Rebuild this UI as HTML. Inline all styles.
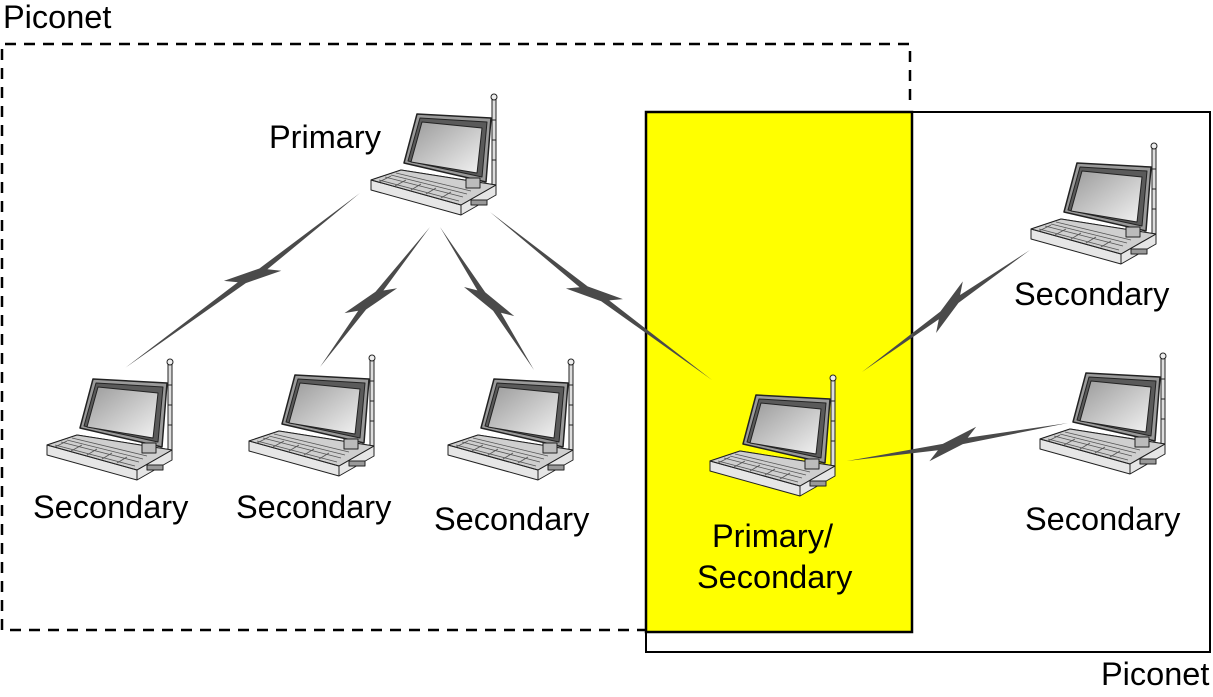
<!DOCTYPE html>
<html><head><meta charset="utf-8"><style>
html,body{margin:0;padding:0;background:#fff;}
svg{display:block;}
text{font-family:"Liberation Sans",sans-serif;font-size:32.5px;fill:#000;}
</style></head><body>
<svg width="1213" height="697" viewBox="0 0 1213 697" xmlns="http://www.w3.org/2000/svg">
<defs>
<linearGradient id="scr" x1="0" y1="0" x2="1" y2="1">
<stop offset="0" stop-color="#9a9a9a"/><stop offset="1" stop-color="#f2f2f2"/>
</linearGradient>
<g id="lap" stroke="#222" stroke-width="1" stroke-linejoin="round">
<rect x="121" y="9" width="4" height="86" fill="#ddd"/>
<line x1="121" y1="30" x2="125" y2="30"/><line x1="121" y1="50" x2="125" y2="50"/><line x1="121" y1="70" x2="125" y2="70"/>
<circle cx="123" cy="7" r="3" fill="#eee"/>
<polygon points="0,90 30,80 125,95 125,105 90,125 0,100" fill="#e6e6e6"/>
<polygon points="0,90 30,80 125,95 90,115" fill="#cfcfcf"/>
<polyline points="0,90 90,115 125,95" fill="none"/>
<line x1="90" y1="115" x2="90" y2="125"/>
<g stroke="#555" stroke-width="0.8">
<line x1="8" y1="90" x2="88" y2="111"/><line x1="14" y1="87" x2="92" y2="107"/><line x1="20" y1="85" x2="96" y2="104"/><line x1="25" y1="83" x2="100" y2="101"/>
<line x1="20" y1="86" x2="8" y2="92"/><line x1="35" y1="90" x2="24" y2="96"/><line x1="50" y1="94" x2="40" y2="100"/><line x1="65" y1="98" x2="55" y2="104"/><line x1="80" y1="102" x2="70" y2="108"/>
</g>
<polygon points="46,24 120,28 115,92 33,73" fill="#9a9a9a" stroke-width="1.5"/>
<polygon points="49,28 116,32 111,87 37,71" fill="#5a5a5a"/>
<polygon points="51,32 111,38 106,83 40,72" fill="url(#scr)"/>
<rect x="95" y="88" width="14" height="10" fill="#bbb"/>
<rect x="100" y="110" width="16" height="5" fill="#999"/>
</g>
</defs>

<!-- piconet boxes -->
<rect x="646" y="112" width="564" height="540" fill="none" stroke="#000" stroke-width="2"/>
<rect x="646" y="112" width="266" height="520" fill="#ffff00" stroke="#000" stroke-width="2.5"/>
<polyline points="910,100 910,44 2,44 2,630 646,630" fill="none" stroke="#000" stroke-width="2.5" stroke-dasharray="11,8"/>

<!-- bolts -->
<g fill="#4a4a4a">
<polygon points="360,193 267.4,269.3 281.3,270.7 245.8,283.1 125,368 237.8,282.3 223.9,280.9 259.4,268.5"/>
<polygon points="430,227 383.4,290.5 397.1,288.2 366.1,309.5 320,367 358.2,310.8 344.5,313.1 375.5,291.8"/>
<polygon points="440,227 477.4,290.4 464,287 493.1,310.8 534,370 500.9,312.7 514.3,316.1 485.2,292.3"/>
<polygon points="490,212 579.6,287.2 565.9,288.5 601.2,301.2 712,380 609.2,300.4 622.9,299.1 587.6,286.4"/>
<polygon points="1030,250 960.1,295 962.8,281.4 940.4,311.5 862,372 938.8,319.3 936.1,333 958.5,302.9"/>
<polygon points="1068,423 967.7,437.8 976.2,426.8 942.8,443.9 847,461 937.9,450.2 929.4,461.2 962.8,444.1"/>
</g>

<!-- laptops -->
<use href="#lap" x="371" y="90"/>
<use href="#lap" x="47" y="355"/>
<use href="#lap" x="249" y="351"/>
<use href="#lap" x="448" y="355"/>
<use href="#lap" x="710" y="371"/>
<use href="#lap" x="1031" y="139"/>
<use href="#lap" x="1040" y="349"/>

<!-- labels -->
<text x="3" y="28">Piconet</text>
<text x="1101" y="685">Piconet</text>
<text x="269" y="148">Primary</text>
<text x="33" y="518">Secondary</text>
<text x="236" y="518">Secondary</text>
<text x="434" y="530">Secondary</text>
<text x="712" y="547">Primary/</text>
<text x="697" y="588">Secondary</text>
<text x="1014" y="305">Secondary</text>
<text x="1025" y="530">Secondary</text>
</svg>
</body></html>
